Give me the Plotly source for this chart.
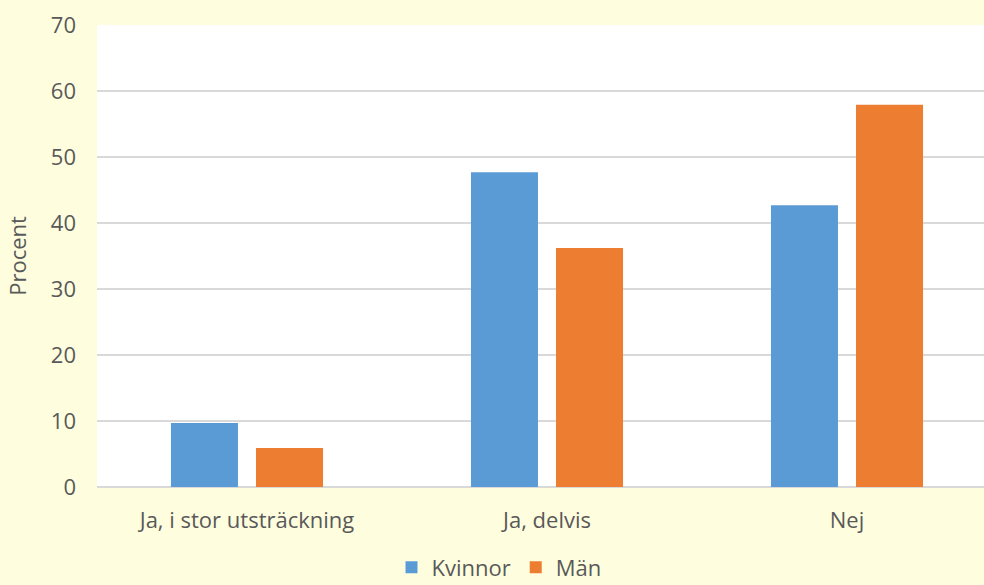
import plotly.graph_objects as go

categories = ["Ja, i stor utsträckning", "Ja, delvis", "Nej"]
kvinnor = [9.7, 47.7, 42.7]
man = [5.9, 36.2, 57.9]
y_ticks = [0, 10, 20, 30, 40, 50, 60, 70]

font_family = "Open Sans, Liberation Sans, sans-serif"
txt = "#595959"
fs = 22

fig = go.Figure()
fig.add_trace(go.Bar(name="Kvinnor", x=categories, y=kvinnor, marker=dict(color="#5B9BD5", line=dict(width=0))))
fig.add_trace(go.Bar(name="Män", x=categories, y=man, marker=dict(color="#ED7D31", line=dict(width=0))))

fig.update_layout(
    width=1000, height=585,
    margin=dict(l=97, r=3, t=25, b=98, autoexpand=False),
    paper_bgcolor="#FEFEDF",
    plot_bgcolor="#FFFFFF",
    barmode="group",
    bargap=0.433,
    bargroupgap=0.212,
    font=dict(family=font_family, size=fs, color=txt),
    showlegend=True,
    legend=dict(orientation="h", xref="container", x=0.499, xanchor="center",
                yref="container", y=0.03, yanchor="middle",
                font=dict(size=fs, color=txt), bgcolor="rgba(0,0,0,0)",
                itemwidth=30, tracegroupgap=0),
    xaxis=dict(showgrid=False, showline=False, ticks="", ticklabelstandoff=18,
               tickfont=dict(size=fs, color=txt)),
    yaxis=dict(range=[0, 70], tickvals=y_ticks, showgrid=True, gridcolor="#D9D9D9", gridwidth=1.5,
               zeroline=True, zerolinecolor="#D9D9D9", zerolinewidth=1.5,
               showline=False, ticks="", ticklabelstandoff=20,
               tickfont=dict(size=fs, color=txt),
               title=dict(text="Procent", font=dict(size=fs, color=txt), standoff=18)),
)

fig.write_html("out.html", config={"displayModeBar": False},
               post_script="document.body.style.margin='0';document.body.style.overflow='hidden';")
